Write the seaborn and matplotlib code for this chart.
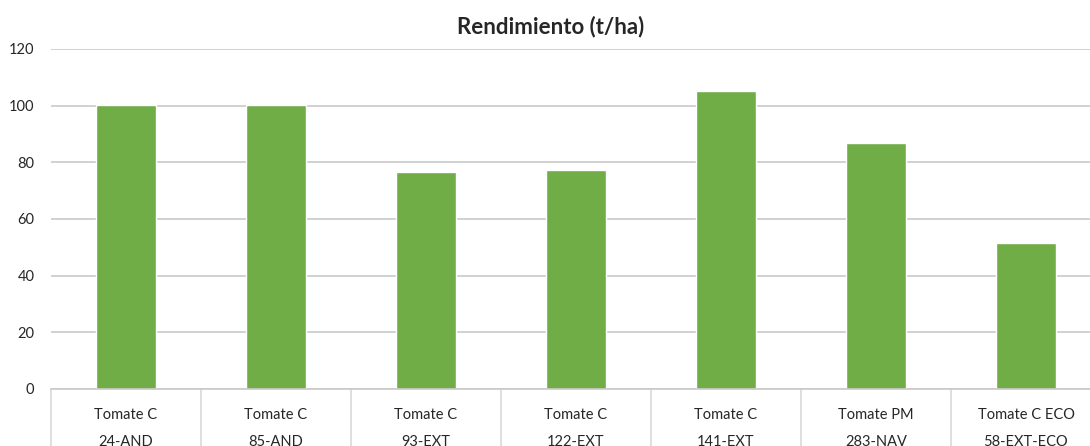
import numpy as np
import pandas as pd
import matplotlib

matplotlib.use("Agg")
import matplotlib.pyplot as plt
import seaborn as sns

######Data
variedad = ["Tomate C", "Tomate C", "Tomate C", "Tomate C", "Tomate C", "Tomate PM", "Tomate C ECO"]
ensayo = ["24-AND", "85-AND", "93-EXT", "122-EXT", "141-EXT", "283-NAV", "58-EXT-ECO"]
rendimiento = [100.2, 100.2, 76.6, 77.3, 105.1, 86.8, 51.5]

labels = [f"{v}\n{e}" for v, e in zip(variedad, ensayo)]
df = pd.DataFrame({"label": labels, "rendimiento": rendimiento})

######Style
sns.set_theme(style="white")
plt.rcParams["font.family"] = ["Lato", "DejaVu Sans"]

grid_color = "#c9c9c9"
bar_color = "#70ad47"

fig = plt.figure(figsize=(10.9, 4.46), dpi=100)
ax = fig.add_axes([51 / 1090, 1 - 389 / 446, 1050 / 1090, 340 / 446])

sns.barplot(data=df, x="label", y="rendimiento", color=bar_color, width=0.4,
            saturation=1, ax=ax)

ax.set_ylim(0, 120)
ax.set_xlim(-0.5, len(labels) - 0.5)
ax.set_yticks(np.arange(0, 121, 20))
ax.yaxis.grid(True, color=grid_color, linewidth=1.2)
ax.set_axisbelow(True)
for side in ["top", "right", "left"]:
    ax.spines[side].set_visible(False)
ax.spines["bottom"].set_color(grid_color)
ax.spines["bottom"].set_linewidth(1.2)

# category separators of the two-level axis
ax.set_xticks(np.arange(-0.5, len(labels)), minor=True)
ax.tick_params(axis="x", which="minor", bottom=True, direction="out",
               length=60, width=1.2, color="#d9d9d9")
ax.tick_params(axis="x", which="major", length=0, pad=14, labelsize=10.5)
ax.tick_params(axis="y", length=0, pad=12, labelsize=10.5)
for t in ax.get_xticklabels():
    t.set_linespacing(2.1)
    t.set_verticalalignment("top")

ax.set_xlabel("")
ax.set_ylabel("")
fig.text(0.505, 1 - 27 / 446, "Rendimiento (t/ha)", ha="center", va="center",
         fontsize=16, fontweight="bold")

plt.savefig("out.png", dpi=100)
plt.close(fig)
